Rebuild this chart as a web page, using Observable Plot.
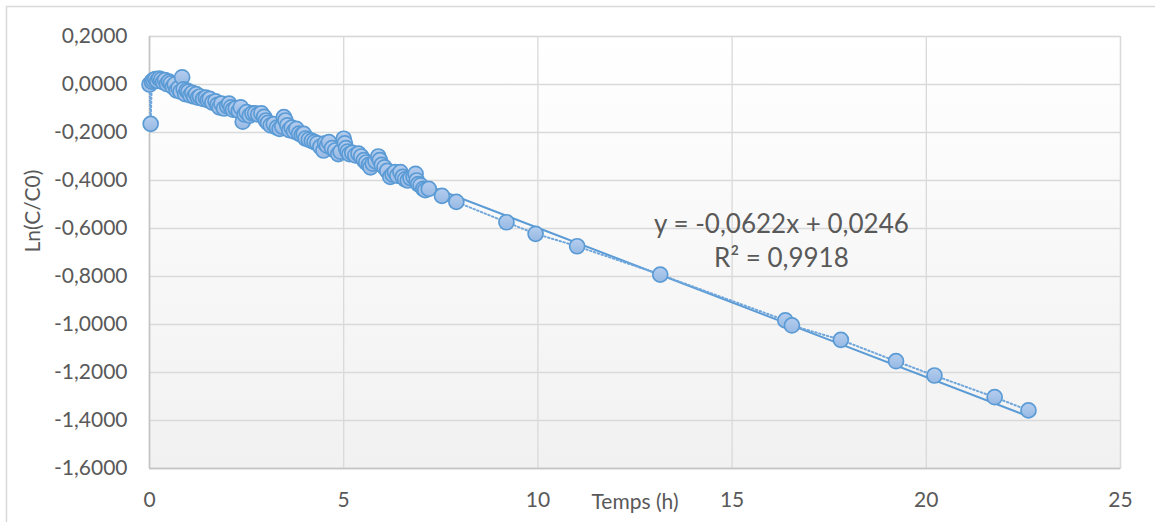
<!DOCTYPE html>
<html>
<head>
<meta charset="utf-8">
<script src="https://cdn.jsdelivr.net/npm/d3@7"></script>
<script src="https://cdn.jsdelivr.net/npm/@observablehq/plot@0.6"></script>
<style>
  body { margin: 0; background: #ffffff; }
</style>
</head>
<body>
<div id="chart"></div>
<script>
// ---- Data ----
const time = [
  0.00, 0.03, 0.06, 0.10, 0.15, 0.20, 0.25, 0.30, 0.35, 0.40,
  0.45, 0.50, 0.55, 0.60, 0.65, 0.70, 0.75, 0.80, 0.84, 0.88,
  0.92, 0.96, 1.00, 1.05, 1.10, 1.15, 1.20, 1.25, 1.30, 1.38,
  1.45, 1.50, 1.55, 1.62, 1.70, 1.75, 1.80, 1.85, 1.92, 2.00,
  2.05, 2.10, 2.15, 2.22, 2.30, 2.35, 2.40, 2.45, 2.50, 2.58,
  2.65, 2.72, 2.80, 2.88, 2.95, 3.00, 3.05, 3.12, 3.20, 3.28,
  3.35, 3.42, 3.46, 3.50, 3.55, 3.60, 3.66, 3.72, 3.78, 3.85,
  3.92, 3.97, 4.02, 4.10, 4.18, 4.25, 4.32, 4.40, 4.48, 4.52,
  4.57, 4.62, 4.70, 4.78, 4.86, 4.92, 5.00, 5.03, 5.06, 5.10,
  5.15, 5.22, 5.30, 5.38, 5.45, 5.52, 5.58, 5.65, 5.69, 5.75,
  5.82, 5.89, 5.93, 5.98, 6.05, 6.12, 6.20, 6.26, 6.32, 6.38,
  6.46, 6.52, 6.58, 6.65, 6.72, 6.80, 6.85, 6.88, 6.92, 6.98,
  7.05, 7.10, 7.19, 7.53, 7.90, 9.19, 9.94, 11.01, 13.15, 16.37,
  16.54, 17.80, 19.22, 20.21, 21.76, 22.63
];
const lnC = [
  0.000, -0.164, 0.012, 0.018, 0.022, 0.015, 0.025, 0.020, 0.010, 0.018,
  0.002, 0.012, 0.005, -0.010, 0.000, -0.025, -0.015, -0.030, 0.030, -0.020,
  -0.040, -0.025, -0.030, -0.045, -0.035, -0.050, -0.040, -0.055, -0.050, -0.060,
  -0.055, -0.065, -0.060, -0.075, -0.070, -0.085, -0.095, -0.080, -0.100, -0.090,
  -0.080, -0.095, -0.105, -0.100, -0.110, -0.095, -0.155, -0.125, -0.115, -0.130,
  -0.120, -0.120, -0.125, -0.120, -0.135, -0.150, -0.160, -0.170, -0.165, -0.180,
  -0.185, -0.175, -0.136, -0.150, -0.170, -0.190, -0.180, -0.195, -0.185, -0.205,
  -0.210, -0.206, -0.225, -0.230, -0.235, -0.240, -0.245, -0.260, -0.275, -0.245,
  -0.255, -0.240, -0.265, -0.275, -0.290, -0.280, -0.226, -0.245, -0.265, -0.280,
  -0.290, -0.285, -0.295, -0.288, -0.300, -0.315, -0.325, -0.335, -0.345, -0.330,
  -0.320, -0.300, -0.315, -0.335, -0.345, -0.360, -0.385, -0.375, -0.365, -0.380,
  -0.365, -0.385, -0.395, -0.400, -0.390, -0.385, -0.372, -0.400, -0.415, -0.420,
  -0.435, -0.440, -0.435, -0.464, -0.489, -0.574, -0.622, -0.674, -0.792, -0.983,
  -1.004, -1.064, -1.153, -1.2125, -1.303, -1.358
];
const xTicks = [0, 5, 10, 15, 20, 25];
const yTicks = [0.2, 0, -0.2, -0.4, -0.6, -0.8, -1.0, -1.2, -1.4, -1.6];
const trendSlope = -0.0622;
const trendIntercept = 0.0246;
const trendR2 = 0.9918;
const xLabel = "Temps (h)";
const yLabel = "Ln(C/C0)";
const equationAnchor = { x: 16.27, y1: -0.583, y2: -0.725 };

// ---- Derived tables ----
const data = time.map((t, i) => ({ t, v: lnC[i] }));
const tMax = d3.max(time);
const trend = [
  { t: 0, v: trendIntercept },
  { t: tMax, v: trendIntercept + trendSlope * tMax }
];
const frNum = (d, n) => {
  const s = (Math.abs(d) < 1e-12 ? 0 : d).toFixed(n);
  return s.replace(".", ",");
};
const eq1 = `y = ${frNum(trendSlope, 4)}x + ${frNum(trendIntercept, 4)}`;
const eq2 = `R² = ${frNum(trendR2, 4)}`;
const equations = [
  { label: eq1, x: equationAnchor.x, y: equationAnchor.y1 },
  { label: eq2, x: equationAnchor.x, y: equationAnchor.y2 }
];

const blue = "#5b9bd5";
const textGray = "#595959";
const font = "Lato, 'Open Sans', sans-serif";

const gradientDefs = () => {
  const g = d3.create("svg:defs");
  const lg = g.append("linearGradient")
    .attr("id", "plotbg")
    .attr("x1", 0).attr("y1", 0).attr("x2", 0).attr("y2", 1);
  lg.append("stop").attr("offset", "0%").attr("stop-color", "#ffffff");
  lg.append("stop").attr("offset", "100%").attr("stop-color", "#f1f1f1");
  const dg = g.append("linearGradient")
    .attr("id", "dotfill")
    .attr("x1", 0).attr("y1", 0).attr("x2", 0).attr("y2", 1);
  dg.append("stop").attr("offset", "0%").attr("stop-color", "#b4cdee");
  dg.append("stop").attr("offset", "100%").attr("stop-color", "#97b9e4");
  return g.node();
};

const chart = Plot.plot({
  width: 1155,
  height: 522,
  marginLeft: 149,
  marginRight: 35,
  marginTop: 36,
  marginBottom: 54,
  style: { fontFamily: font, fontSize: "21px", color: textGray, background: "#ffffff", overflow: "visible" },
  x: { domain: [0, 25] },
  y: { domain: [-1.6, 0.2] },
  marks: [
    gradientDefs,
    // outer chart border
    Plot.frame({ stroke: "#d9d9d9", strokeWidth: 1.5, insetLeft: -143, insetTop: -30, insetRight: -60, insetBottom: -80 }),
    Plot.frame({ fill: "url(#plotbg)", stroke: "#d9d9d9", strokeWidth: 1.3 }),
    Plot.gridX(xTicks, { stroke: "#d9d9d9", strokeOpacity: 1, strokeWidth: 1.3 }),
    Plot.gridY(yTicks, { stroke: "#d9d9d9", strokeOpacity: 1, strokeWidth: 1.3 }),
    Plot.ruleX([0], { stroke: "#c4c4c4", strokeWidth: 1.5 }),
    Plot.ruleY([-1.6], { stroke: "#c4c4c4", strokeWidth: 1.5 }),
    Plot.axisX(xTicks, {
      tickSize: 0, tickPadding: 24, label: null,
      tickFormat: d => String(d), fontSize: 21, fill: textGray
    }),
    Plot.axisY(yTicks, {
      tickSize: 0, tickPadding: 22, label: null,
      tickFormat: d => frNum(d, 4), fontSize: 21, fill: textGray
    }),
    Plot.line(trend, { x: "t", y: "v", stroke: blue, strokeWidth: 2 }),
    Plot.line(data, { x: "t", y: "v", stroke: "#6fa6dc", strokeWidth: 2, strokeDasharray: "1.5,2.5" }),
    Plot.dot(data, { x: "t", y: "v", r: 7.5, fill: "url(#dotfill)", stroke: blue, strokeWidth: 1.7 }),
    Plot.text(equations, {
      x: "x", y: "y", text: "label", fontSize: 26, fill: textGray, textAnchor: "middle"
    }),
    Plot.text([yLabel], {
      text: d => d, frameAnchor: "left", rotate: -90, dx: -116, fontSize: 21, fill: textGray
    }),
    Plot.text([xLabel], {
      text: d => d, frameAnchor: "bottom", dy: 40, fontSize: 21, fill: textGray
    })
  ]
});

document.getElementById("chart").appendChild(chart);
</script>
</body>
</html>
